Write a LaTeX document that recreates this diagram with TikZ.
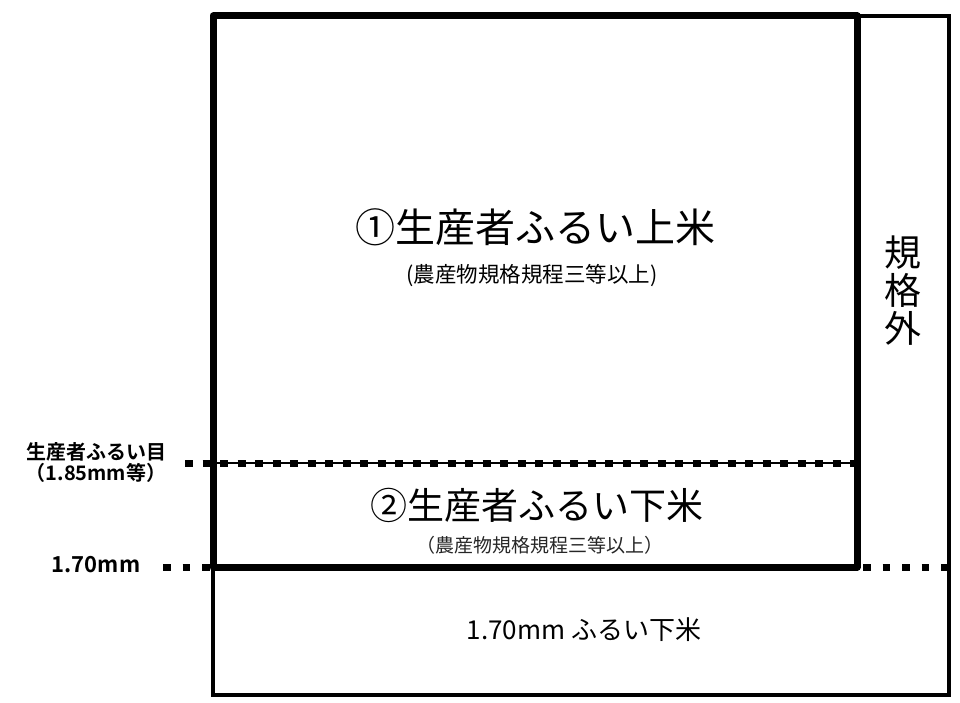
\documentclass[tikz,border=0pt]{standalone}
\usepackage{fontspec}
\setmainfont{Noto Sans CJK JP}
\newfontfamily\jpbold[BoldFont={Noto Sans CJK JP Bold}]{Noto Sans CJK JP}
\begin{document}
\begin{tikzpicture}[x=1pt,y=-1pt,
  thinbox/.style={draw=black,line width=3.5pt},
  thickbox/.style={draw=black,line width=7pt,line join=round},
  guideline/.style={draw=black,line width=2pt},
  dotsa/.style={draw=black,line width=7pt,dash pattern=on 8pt off 9.5pt},
  dotsb/.style={draw=black,line width=7pt,dash pattern=on 7.5pt off 12pt},
  lbl/.style={inner sep=0pt,anchor=center,text=black}]
\useasboundingbox (0,0) rectangle (960,703);
% corners
\coordinate (tl) at (213,16);
\coordinate (tr) at (949,16);
\coordinate (br) at (949,695);
\coordinate (ktr) at (857,16);
\coordinate (kbr) at (857,567);
\coordinate (kbl) at (213,567);
% outer thin frame
\draw[thinbox] (tl) rectangle (br);
% thick frame
\draw[thickbox] (kbl) -- (tl) -- (ktr) -- (kbr) -- cycle;
% upper sieve line
\coordinate (ua) at (185,463);
\coordinate (ub) at (213,463);
\coordinate (uc) at (857,463);
\draw[guideline] (ub) -- (uc);
\draw[dotsa] (ua) -- (uc);
% lower sieve line
\coordinate (la) at (163,567);
\coordinate (lb) at (213,567);
\coordinate (lc) at (863,567);
\coordinate (ld) at (952,567);
\draw[dotsb] (la) -- (lb);
\draw[dotsb] (lc) -- (ld);
% texts
\node[lbl,font=\fontsize{40}{44}\selectfont] (t1) at (535,227) {①生産者ふるい上米};
\node[lbl,font=\fontsize{21.5}{24}\selectfont] (s1) at (532,276) {(農産物規格規程三等以上)};
\node[lbl,font=\fontsize{37}{40}\selectfont] (t2) at (537,505) {②生産者ふるい下米};
\node[lbl,font=\fontsize{19}{22}\selectfont,text=black!85] (s2) at (540,545) {（農産物規格規程三等以上）};
\node[lbl,font=\fontsize{26}{28}\selectfont] (t3) at (584,630) {1.70mm ふるい下米};
\node[lbl,font=\fontsize{37}{38}\selectfont,align=center] (kg) at (903,291) {規\\格\\外};
\node[lbl,font=\jpbold\bfseries\fontsize{20}{21}\selectfont,align=center] (m1) at (96,462) {生産者ふるい目\\（1.85mm等）};
\node[lbl,font=\jpbold\bfseries\fontsize{22}{24}\selectfont] (m3) at (96,565) {1.70mm};
\end{tikzpicture}
\end{document}
